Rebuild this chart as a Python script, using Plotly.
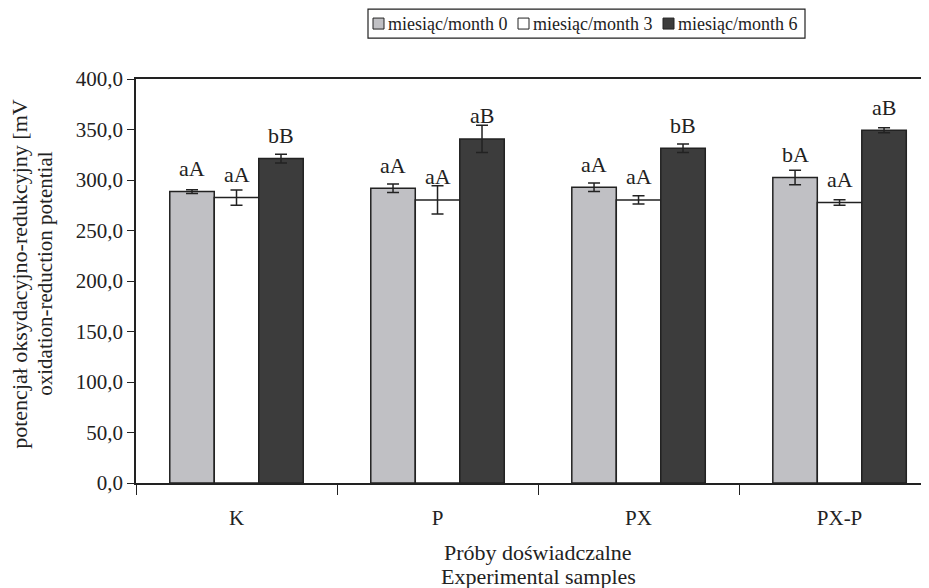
import plotly.graph_objects as go

categories = ["K", "P", "PX", "PX-P"]
series_names = ["miesiąc/month 0", "miesiąc/month 3", "miesiąc/month 6"]
values_m0 = [288.5, 291.9, 292.9, 302.4]
values_m3 = [282.6, 280.3, 280.3, 277.7]
values_m6 = [321.2, 340.7, 331.5, 349.3]
errors_m0 = [1.8, 4.2, 4.2, 7.2]
errors_m3 = [7.5, 14.0, 4.0, 2.7]
errors_m6 = [4.4, 13.5, 4.2, 2.5]
letters_m0 = ["aA", "aA", "aA", "bA"]
letters_m3 = ["aA", "aA", "aA", "aA"]
letters_m6 = ["bB", "aB", "bB", "aB"]
y_ticks = [0, 50, 100, 150, 200, 250, 300, 350, 400]

values = [values_m0, values_m3, values_m6]
errors = [errors_m0, errors_m3, errors_m6]
letters = [letters_m0, letters_m3, letters_m6]
colors = ["#C0C0C4", "#FFFFFF", "#3C3C3C"]
INK = "#222222"
FONT = "Liberation Serif, Times New Roman, serif"

# page offset (browser body margin) compensation
OFF = 8
W, H = 929 - OFF, 588 - OFF
L, T = 136 - OFF, 79 - OFF
B = H - (483.5 - OFF)
PW = W - L
PH = H - T - B

def px(x_abs):
    return (x_abs - OFF - L) / PW

def py(y_abs):
    return (H - B - (y_abs - OFF)) / PH

bargap = 0.336
bw = (1 - bargap) / 3

fig = go.Figure()
for j in range(3):
    fig.add_trace(go.Bar(
        x=categories, y=values[j], name=series_names[j],
        marker=dict(color=colors[j], line=dict(color=INK, width=1.5)),
        error_y=dict(type="data", array=errors[j], visible=True,
                     color=INK, thickness=1.5, width=6),
        showlegend=False,
    ))

annotations = []
for j in range(3):
    for i in range(len(categories)):
        annotations.append(dict(
            x=i + (j - 1) * bw, y=values[j][i], xref="x", yref="y",
            text=letters[j][i], showarrow=False, yanchor="middle", yshift=23,
            font=dict(family=FONT, size=22, color=INK),
        ))

# y-axis title (two lines)
for text, xa, fs in [("potencjał oksydacyjno-redukcyjny [mV", 20, 22),
                     ("oxidation-reduction potential", 45, 21)]:
    annotations.append(dict(
        x=px(xa), y=py(274), xref="paper", yref="paper", text=text,
        textangle=-90, showarrow=False, xanchor="center", yanchor="middle",
        font=dict(family=FONT, size=fs, color=INK),
    ))
# x-axis title (two lines)
for text, ya in [("Próby doświadczalne", 553), ("Experimental samples", 577)]:
    annotations.append(dict(
        x=1.5, y=py(ya), xref="x", yref="paper", text=text,
        showarrow=False, xanchor="center", yanchor="middle",
        font=dict(family=FONT, size=22, color=INK),
    ))

# legend drawn manually
shapes = [dict(type="rect", xref="paper", yref="paper",
               x0=px(368), x1=px(805), y0=py(38), y1=py(9),
               line=dict(color=INK, width=1.2), fillcolor="rgba(0,0,0,0)",
               layer="above")]
sq_x = [373, 518, 663]
for j in range(3):
    shapes.append(dict(type="rect", xref="paper", yref="paper",
                       x0=px(sq_x[j]), x1=px(sq_x[j] + 11), y0=py(29), y1=py(18),
                       line=dict(color=INK, width=1), fillcolor=colors[j],
                       layer="above"))
    annotations.append(dict(
        x=px(sq_x[j] + 13), y=py(23.5), xref="paper", yref="paper",
        text=series_names[j], showarrow=False, xanchor="left", yanchor="middle",
        font=dict(family=FONT, size=18, color=INK),
    ))

fig.update_layout(
    width=W, height=H,
    margin=dict(l=L, r=0, t=T, b=B),
    paper_bgcolor="white", plot_bgcolor="white",
    barmode="group", bargap=bargap, bargroupgap=0,
    separators=", ",
    font=dict(family=FONT, size=21, color=INK),
    showlegend=False,
    annotations=annotations,
    shapes=shapes,
)
fig.update_xaxes(
    range=[-0.5, 3.445], showline=True, linecolor=INK, linewidth=1.5,
    mirror=True, ticks="outside", ticklen=10, tickcolor=INK,
    tickson="boundaries", ticklabelstandoff=15, showgrid=False,
    tickfont=dict(family=FONT, size=21),
)
fig.update_yaxes(
    range=[0, 400], tickvals=y_ticks, tickformat=".1f", showline=True,
    linecolor=INK, linewidth=1.5, ticks="outside", ticklen=7,
    tickcolor=INK, showgrid=False, zeroline=False,
    tickfont=dict(family=FONT, size=21),
)
fig.write_html("out.html")
